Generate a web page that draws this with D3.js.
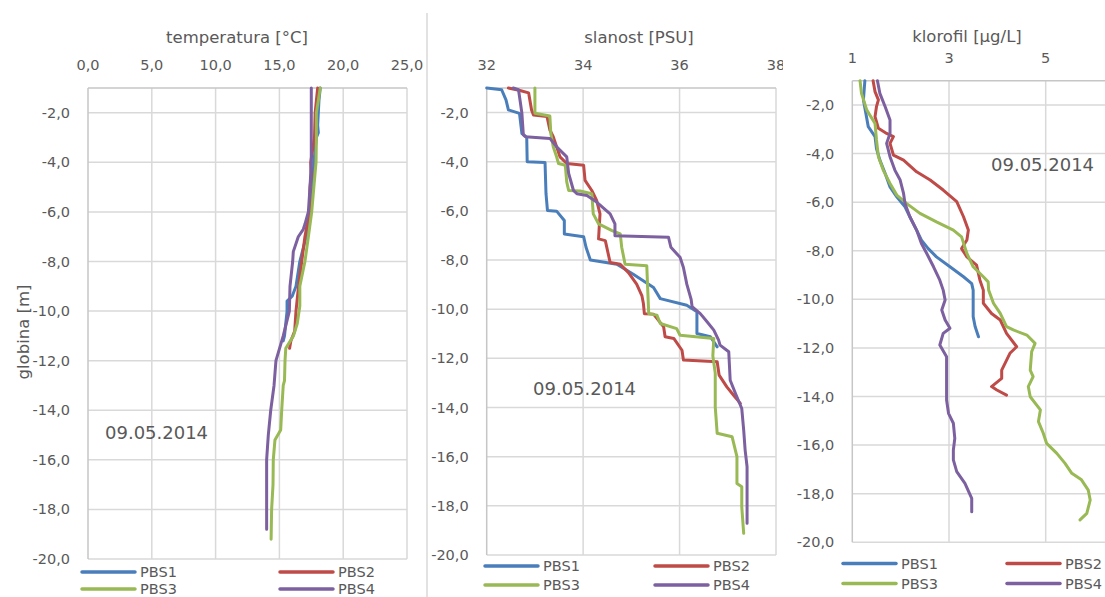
<!DOCTYPE html>
<html>
<head>
<meta charset="utf-8">
<script src="https://cdn.jsdelivr.net/npm/d3@7"></script>
<style>
  body { margin: 0; background: #fff; }
  svg { display: block; }
  text { font-family: "DejaVu Sans", sans-serif; fill: #595959; }
</style>
</head>
<body>
<svg id="chart" width="1105" height="597"></svg>
<script>
// ---- data ---------------------------------------------------------------
const stations = ["PBS1", "PBS2", "PBS3", "PBS4"];
const stationColors = ["#4A7EBB", "#BE4B48", "#98B954", "#7D60A0"];
const depthTicks = [-2, -4, -6, -8, -10, -12, -14, -16, -18, -20];
const tempTicks = [0, 5, 10, 15, 20, 25];
const salTicks = [32, 34, 36, 38];
const chlTicks = [1, 3, 5];
const sampleDate = "09.05.2014";

// temperature profiles: [depth m, °C]
const tempPBS1 = [[-1,18.2],[-1.5,18.1],[-2,18.05],[-2.5,18.0],[-2.8,18.05],[-3,17.9],[-4,17.7],[-5,17.6],[-6,17.4],[-7,17.1],[-8,16.6],[-9,16.3],[-9.4,16.0],[-9.6,15.6],[-10,15.6],[-10.5,15.5],[-11,15.4],[-11.2,15.3]];
const tempPBS2 = [[-1,18.0],[-2,17.8],[-3,17.75],[-4,17.45],[-4.5,17.5],[-5,17.4],[-6,17.35],[-7,17.0],[-8,16.75],[-9,16.5],[-10,16.3],[-10.8,16.2],[-11.2,15.9],[-11.5,15.8]];
const tempPBS3 = [[-1,18.2],[-2,17.9],[-3,17.9],[-4,17.87],[-5,17.7],[-6,17.53],[-7,17.27],[-8,17.0],[-9,16.6],[-9.8,16.6],[-10.5,16.4],[-11,16.1],[-11.5,15.5],[-12,15.44],[-12.8,15.4],[-13,15.3],[-14,15.18],[-14.8,15.1],[-15.2,14.65],[-16,14.52],[-17,14.5],[-18,14.39],[-19.2,14.35]];
const tempPBS4 = [[-1,17.5],[-2,17.5],[-4,17.5],[-5,17.4],[-6,17.27],[-6.5,17.0],[-6.7,16.87],[-7,16.48],[-7.6,16.09],[-8,16.04],[-9,15.83],[-10,15.78],[-11,15.3],[-12,14.73],[-13,14.58],[-14,14.32],[-15,14.13],[-16,14.0],[-18,14.0],[-18.8,14.0]];

// salinity profiles: [depth m, PSU]
const salPBS1 = [[-1,32.0],[-1.07,32.31],[-1.48,32.4],[-1.89,32.45],[-2.03,32.68],[-2.85,32.73],[-3.0,32.83],[-4.0,32.84],[-4.03,33.21],[-5.3,33.23],[-5.98,33.26],[-6.01,33.45],[-6.39,33.61],[-6.94,33.61],[-7.05,34.01],[-7.48,34.06],[-8.0,34.15],[-8.17,34.7],[-8.58,35.04],[-9.12,35.46],[-9.57,35.6],[-9.84,36.15],[-10.1,36.36],[-10.99,36.36],[-11.12,36.64],[-11.53,36.78]];
const salPBS2 = [[-1,32.45],[-1.1,32.69],[-1.2,32.87],[-1.89,32.93],[-2.1,32.97],[-2.16,33.25],[-2.71,33.31],[-2.98,33.38],[-3.39,33.45],[-3.8,33.52],[-4.07,33.66],[-4.14,34.01],[-4.76,34.04],[-5.17,34.18],[-5.57,34.28],[-6.12,34.35],[-7.14,34.32],[-7.21,34.46],[-8.1,34.56],[-8.17,34.77],[-8.51,34.94],[-8.98,35.11],[-9.46,35.22],[-9.77,35.25],[-10.18,35.27],[-10.2,35.46],[-10.72,35.67],[-11.12,35.7],[-11.19,35.88],[-11.67,36.05],[-12.07,36.08],[-12.14,36.78],[-12.68,36.82],[-13.16,36.98],[-13.5,37.12],[-13.83,37.26]];
const salPBS3 = [[-1,33.0],[-2.03,33.0],[-2.14,33.31],[-2.85,33.33],[-3.39,33.38],[-3.8,33.45],[-4.07,33.49],[-4.14,33.63],[-4.82,33.66],[-5.17,33.7],[-5.19,33.94],[-5.3,34.18],[-6.12,34.21],[-6.53,34.32],[-6.8,34.6],[-6.94,34.77],[-7.48,34.8],[-8.17,34.87],[-8.23,35.32],[-10.18,35.36],[-10.24,35.53],[-10.58,35.6],[-10.79,35.94],[-11.06,36.01],[-11.19,36.71],[-11.9,36.69],[-12.6,36.74],[-13.97,36.74],[-15.05,36.78],[-15.19,37.09],[-16.0,37.19],[-17.09,37.19],[-17.22,37.29],[-18.04,37.29],[-19.12,37.33]];
const salPBS4 = [[-1,32.55],[-1.07,32.66],[-1.48,32.69],[-2.03,32.73],[-2.91,32.76],[-2.98,32.8],[-3.05,33.31],[-3.39,33.45],[-3.8,33.66],[-4.48,33.7],[-5.17,33.8],[-5.3,33.87],[-5.37,34.08],[-5.64,34.28],[-6.12,34.56],[-6.53,34.66],[-7.01,34.66],[-7.07,35.77],[-7.48,35.82],[-7.89,36.01],[-8.3,36.08],[-8.98,36.15],[-9.6,36.24],[-9.9,36.26],[-10.18,36.43],[-10.51,36.57],[-10.85,36.71],[-11.26,36.81],[-11.46,36.84],[-11.73,37.02],[-12.89,37.05],[-13.43,37.16],[-14.04,37.29],[-14.92,37.33],[-15.73,37.36],[-16.41,37.4],[-18.71,37.4]];

// chlorophyll profiles: [depth m, µg/L]
const chlPBS1 = [[-1,1.26],[-1.79,1.23],[-2.34,1.28],[-2.89,1.33],[-3.3,1.47],[-3.79,1.5],[-4.27,1.57],[-4.82,1.68],[-5.37,1.78],[-5.78,1.92],[-6.19,2.09],[-6.6,2.19],[-7.15,2.33],[-7.56,2.43],[-7.91,2.57],[-8.25,2.74],[-8.66,3.02],[-9.07,3.3],[-9.35,3.47],[-9.62,3.5],[-10.71,3.5],[-11.12,3.54],[-11.54,3.61]];
const chlPBS2 = [[-1,1.43],[-1.45,1.47],[-1.79,1.54],[-2.07,1.5],[-2.48,1.47],[-2.96,1.54],[-3.17,1.71],[-3.3,1.85],[-3.58,1.78],[-4.06,1.85],[-4.27,2.06],[-4.75,2.33],[-5.09,2.61],[-5.5,2.88],[-5.98,3.16],[-6.6,3.3],[-7.15,3.4],[-7.56,3.37],[-7.91,3.26],[-8.25,3.37],[-8.59,3.57],[-9.21,3.64],[-9.62,3.71],[-10.16,3.71],[-10.58,3.88],[-10.85,4.06],[-11.4,4.19],[-11.95,4.4],[-12.22,4.26],[-12.91,4.09],[-13.25,4.09],[-13.59,3.88],[-13.73,3.99],[-13.94,4.19]];
const chlPBS3 = [[-1,1.16],[-1.52,1.19],[-2.21,1.3],[-2.76,1.47],[-3.44,1.5],[-4.13,1.54],[-4.68,1.64],[-5.23,1.78],[-5.71,1.92],[-6.05,2.12],[-6.46,2.4],[-6.81,2.74],[-7.15,3.09],[-7.43,3.26],[-8.11,3.37],[-8.66,3.5],[-9.07,3.71],[-9.28,3.81],[-9.62,3.82],[-10.16,3.92],[-10.58,4.06],[-11.12,4.19],[-11.26,4.33],[-11.47,4.61],[-11.81,4.78],[-12.15,4.71],[-12.91,4.68],[-13.18,4.74],[-13.59,4.64],[-14.01,4.68],[-14.55,4.89],[-15.03,4.85],[-15.51,4.95],[-15.93,5.02],[-16.34,5.23],[-16.75,5.4],[-17.16,5.54],[-17.43,5.74],[-17.85,5.88],[-18.26,5.92],[-18.81,5.85],[-19.08,5.71]];
const chlPBS4 = [[-1,1.52],[-1.52,1.57],[-2.07,1.68],[-2.62,1.78],[-3.17,1.78],[-3.58,1.71],[-4.13,1.78],[-4.68,1.88],[-5.09,1.99],[-5.64,2.06],[-6.05,2.09],[-6.6,2.19],[-7.15,2.33],[-7.7,2.43],[-8.11,2.54],[-8.66,2.68],[-9.21,2.81],[-9.62,2.88],[-10.03,2.92],[-10.44,2.85],[-10.85,2.92],[-11.19,3.02],[-11.4,2.88],[-11.88,2.81],[-12.36,2.95],[-14.14,2.95],[-14.69,2.99],[-15.1,3.09],[-15.72,3.12],[-16.2,3.09],[-16.61,3.09],[-17.09,3.16],[-17.57,3.33],[-18.19,3.47],[-18.74,3.47]];

// ---- drawing ------------------------------------------------------------
const svg = d3.select("#chart");
const fmt1 = v => d3.format(".1f")(v).replace(".", ",").replace("−", "-");
const fmt0 = v => String(v);

const panels = [
  { title: "temperatura [°C]", titleX: 237, titleY: 43, ticks: tempTicks, fmt: fmt1,
    domain: [0, 25], left: 88, right: 407, top: 88, bottom: 559, tickY: 65,
    series: [tempPBS1, tempPBS2, tempPBS3, tempPBS4],
    legend: { rows: [572, 589], cols: [82, 280] }, date: [105, 432], bg: null },
  { title: "slanost [PSU]", titleX: 639, titleY: 43, ticks: salTicks, fmt: fmt0,
    domain: [32, 38], left: 486.7, right: 776, top: 88, bottom: 555, tickY: 65,
    series: [salPBS1, salPBS2, salPBS3, salPBS4],
    legend: { rows: [566, 585], cols: [485, 655] }, date: [533, 388], bg: null },
  { title: "klorofil [µg/L]", titleX: 967, titleY: 42, ticks: chlTicks, fmt: fmt0,
    domain: [1, 7], left: 852.3, right: 1142.4, top: 80.7, bottom: 542.3, tickY: 58,
    series: [chlPBS1, chlPBS2, chlPBS3, chlPBS4],
    legend: { rows: [563.5, 583.5], cols: [843, 1007] }, date: [991, 164], bg: 783 }
];

panels.forEach(p => {
  const g = svg.append("g");
  if (p.bg !== null) {
    g.append("rect").attr("x", p.bg).attr("y", 0).attr("width", 1105 - p.bg).attr("height", 597).attr("fill", "#fff");
  }
  const x = d3.scaleLinear().domain(p.domain).range([p.left, p.right]);
  const y = d3.scaleLinear().domain([-1, -20]).range([p.top, p.bottom]);
  const step = p.ticks[1] - p.ticks[0];
  const gridX = d3.range(p.domain[0] + step, p.domain[1] + step / 2, step);

  // gridlines
  g.append("g").selectAll("line").data(gridX).join("line")
    .attr("x1", d => x(d)).attr("x2", d => x(d)).attr("y1", p.top).attr("y2", p.bottom)
    .attr("stroke", "#d9d9d9").attr("stroke-width", 1.5);
  g.append("g").selectAll("line").data(depthTicks).join("line")
    .attr("x1", p.left).attr("x2", p.right).attr("y1", d => y(d)).attr("y2", d => y(d))
    .attr("stroke", "#d9d9d9").attr("stroke-width", 1.5);

  // axis lines (value axis on top, depth axis on left)
  g.append("line").attr("x1", p.left).attr("x2", p.right).attr("y1", p.top).attr("y2", p.top)
    .attr("stroke", "#c6c6c6").attr("stroke-width", 1.5);
  g.append("line").attr("x1", p.left).attr("x2", p.left).attr("y1", p.top).attr("y2", p.bottom)
    .attr("stroke", "#c6c6c6").attr("stroke-width", 1.5);

  // tick labels
  g.append("g").selectAll("text").data(p.ticks).join("text")
    .attr("x", d => x(d)).attr("y", p.tickY).attr("text-anchor", "middle")
    .attr("dominant-baseline", "central").attr("font-size", 14.5).text(p.fmt);
  g.append("g").selectAll("text").data(depthTicks).join("text")
    .attr("x", p.left - 18).attr("y", d => y(d)).attr("text-anchor", "end")
    .attr("dominant-baseline", "central").attr("font-size", 14.5).text(fmt1);

  // title
  g.append("text").attr("x", p.titleX).attr("y", p.titleY).attr("text-anchor", "middle")
    .attr("font-size", 16.5).text(p.title);

  // profiles
  const line = d3.line().x(d => x(d[1])).y(d => y(d[0]));
  g.append("g").selectAll("path").data(p.series).join("path")
    .attr("d", line).attr("fill", "none")
    .attr("stroke", (d, i) => stationColors[i]).attr("stroke-width", 3)
    .attr("stroke-linejoin", "round").attr("stroke-linecap", "round");

  // date annotation
  g.append("text").attr("x", p.date[0]).attr("y", p.date[1]).attr("dominant-baseline", "central")
    .attr("font-size", 18).text(sampleDate);

  // legend (two columns, two rows)
  stations.forEach((s, i) => {
    const lx = p.legend.cols[i % 2], ly = p.legend.rows[Math.floor(i / 2)];
    g.append("line").attr("x1", lx).attr("x2", lx + 53).attr("y1", ly).attr("y2", ly)
      .attr("stroke", stationColors[i]).attr("stroke-width", 3.5).attr("stroke-linecap", "round");
    g.append("text").attr("x", lx + 58).attr("y", ly).attr("dominant-baseline", "central")
      .attr("font-size", 14.5).text(s);
  });
});

// depth axis title
svg.append("text").attr("transform", "translate(23,332) rotate(-90)")
  .attr("text-anchor", "middle").attr("dominant-baseline", "central")
  .attr("font-size", 16.5).text("globina [m]");

// separator between the first two charts
svg.append("line").attr("x1", 427).attr("x2", 427).attr("y1", 13).attr("y2", 597)
  .attr("stroke", "#d9d9d9").attr("stroke-width", 1.5);
</script>
</body>
</html>
